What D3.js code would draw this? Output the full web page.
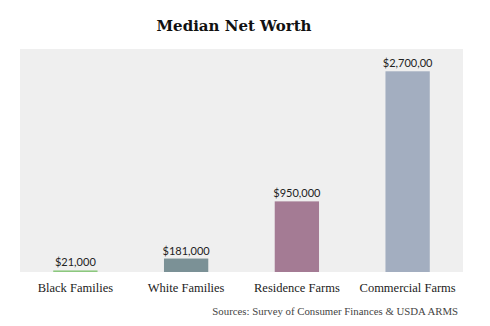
<!DOCTYPE html>
<html><head><meta charset="utf-8">
<script src="https://cdn.jsdelivr.net/npm/d3@7"></script>
<style>body{margin:0;background:#fff}</style>
</head><body><svg id="c" width="490" height="326"></svg>
<script>
const categories = ["Black Families", "White Families", "Residence Farms", "Commercial Farms"];
const values = [21000, 181000, 950000, 2700000];
const valueLabels = ["$21,000", "$181,000", "$950,000", "$2,700,00"];
const colors = ["#8cc87e", "#7b9196", "#a47b94", "#a3aec0"];
const title = "Median Net Worth";
const source = "Sources: Survey of Consumer Finances & USDA ARMS";

const svg = d3.select("#c");
const m = {l: 20, r: 27, t: 49, b: 54};
const W = 490, H = 326;
const x = d3.scaleBand().domain(categories).range([m.l, W - m.r]).paddingInner(0.6).paddingOuter(0.3);
const y = d3.scaleLinear().domain([0, 3000000]).range([H - m.b, m.t]);

svg.append("rect").attr("x", m.l).attr("y", m.t).attr("width", W - m.l - m.r).attr("height", H - m.b - m.t).attr("fill", "#efefef");

svg.selectAll("rect.bar").data(categories).enter().append("rect").attr("class", "bar")
  .attr("x", d => x(d)).attr("width", x.bandwidth())
  .attr("y", (d, i) => y(values[i])).attr("height", (d, i) => y(0) - y(values[i]))
  .attr("fill", (d, i) => colors[i]);

svg.selectAll("text.vl").data(categories).enter().append("text").attr("class", "vl")
  .attr("x", d => x(d) + x.bandwidth() / 2).attr("y", (d, i) => y(values[i]) - 4)
  .attr("text-anchor", "middle").attr("font-family", "Lato, 'Open Sans', sans-serif")
  .attr("font-size", 11).attr("fill", "#222").text((d, i) => valueLabels[i]);

const ax = svg.append("g").attr("transform", `translate(0,${H - m.b})`).call(d3.axisBottom(x).tickSize(0).tickPadding(11));
ax.select(".domain").remove();
ax.selectAll("text").attr("font-family", "'Liberation Serif', serif").attr("font-size", 12.5).attr("fill", "#222");

svg.append("text").attr("x", 234).attr("y", 31).attr("text-anchor", "middle")
  .attr("font-family", "'DejaVu Serif', serif").attr("font-weight", "bold").attr("font-size", 15).attr("fill", "#111").text(title);

svg.append("text").attr("x", 458).attr("y", 315).attr("text-anchor", "end")
  .attr("font-family", "'Liberation Serif', serif").attr("font-size", 10.8).attr("fill", "#444").text(source);
</script></body></html>
